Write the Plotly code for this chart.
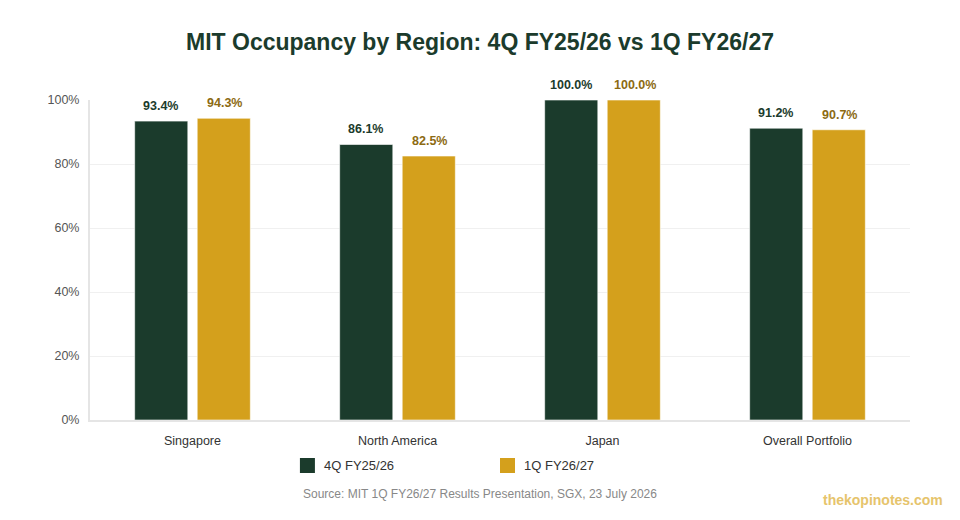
import plotly.graph_objects as go

categories = ["Singapore", "North America", "Japan", "Overall Portfolio"]
series_names = ["4Q FY25/26", "1Q FY26/27"]
q4_fy2526 = [93.4, 86.1, 100.0, 91.2]
q1_fy2627 = [94.3, 82.5, 100.0, 90.7]
y_ticks = [0, 20, 40, 60, 80, 100]
y_tick_labels = ["0%", "20%", "40%", "60%", "80%", "100%"]

GREEN = "#1b3b2c"
GOLD = "#d4a01c"
GOLD_TEXT = "#8c6a12"
FONT = "Liberation Sans, Arial, Helvetica, sans-serif"

fig = go.Figure()
fig.add_trace(go.Bar(
    name=series_names[0], x=categories, y=q4_fy2526,
    marker=dict(color=GREEN, line=dict(color="rgba(255,255,255,0.6)", width=1)),
    cliponaxis=False, showlegend=False,
))
fig.add_trace(go.Bar(
    name=series_names[1], x=categories, y=q1_fy2627,
    marker=dict(color=GOLD, line=dict(color="rgba(255,255,255,0.6)", width=1)),
    cliponaxis=False, showlegend=False,
))

annotations = []
for series, color, shift in ((q4_fy2526, GREEN, -32), (q1_fy2627, GOLD_TEXT, 32)):
    for cat, v in zip(categories, series):
        annotations.append(dict(
            x=cat, y=v, xref="x", yref="y", text=f"<b>{v:.1f}%</b>",
            showarrow=False, xshift=shift, yshift=15, yanchor="middle",
            font=dict(size=12.5, color=color, family=FONT)))

# legend (manual)
legend_items = [(series_names[0], GREEN, 0.256), (series_names[1], GOLD, 0.5)]
shapes = []
for name, color, x0 in legend_items:
    shapes.append(dict(type="rect", xref="paper", yref="paper",
                       x0=x0, x1=x0 + 15 / 820, y0=-38 / 320, y1=-53 / 320,
                       fillcolor=color, line=dict(width=0)))
    annotations.append(dict(text=name, xref="paper", yref="paper",
                            x=x0 + 22 / 820, y=-45.5 / 320, xanchor="left", yanchor="middle",
                            showarrow=False, font=dict(size=13, color="#333333", family=FONT)))

annotations += [
    dict(text="Source: MIT 1Q FY26/27 Results Presentation, SGX, 23 July 2026",
         xref="paper", yref="paper", x=(480 - 90) / 820, y=-74 / 320,
         xanchor="center", yanchor="middle",
         showarrow=False, font=dict(size=12, color="#888888", family=FONT)),
    dict(text="<b>thekopinotes.com</b>", xref="paper", yref="paper",
         x=(945 - 90) / 820, y=-80 / 320, xanchor="right", yanchor="middle",
         showarrow=False, font=dict(size=14, color="#e6c46c", family=FONT)),
]

fig.update_layout(
    width=960, height=520,
    margin=dict(l=90, r=50, t=100, b=100),
    paper_bgcolor="white", plot_bgcolor="white",
    font=dict(family=FONT, color="#555555", size=12),
    title=dict(text="<b>MIT Occupancy by Region: 4Q FY25/26 vs 1Q FY26/27</b>",
               x=0.5, xanchor="center", y=0.92, yanchor="middle",
               font=dict(size=23, color=GREEN, family=FONT)),
    barmode="group", bargap=0.39, bargroupgap=0.15,
    showlegend=False,
    xaxis=dict(showline=True, linecolor="#e5e5e5", linewidth=2, ticks="",
               tickfont=dict(size=12.5, color="#333333"), showgrid=False,
               ticklabelstandoff=8),
    yaxis=dict(range=[0, 100], tickvals=y_ticks, ticktext=y_tick_labels,
               showgrid=True, gridcolor="#f0f0f0", gridwidth=1,
               showline=True, linecolor="#e5e5e5", linewidth=2,
               zeroline=False, ticks="", ticklen=0, ticklabelstandoff=6,
               tickfont=dict(size=12.5, color="#555555")),
    shapes=shapes,
    annotations=annotations,
)

fig.write_html("out.html")
